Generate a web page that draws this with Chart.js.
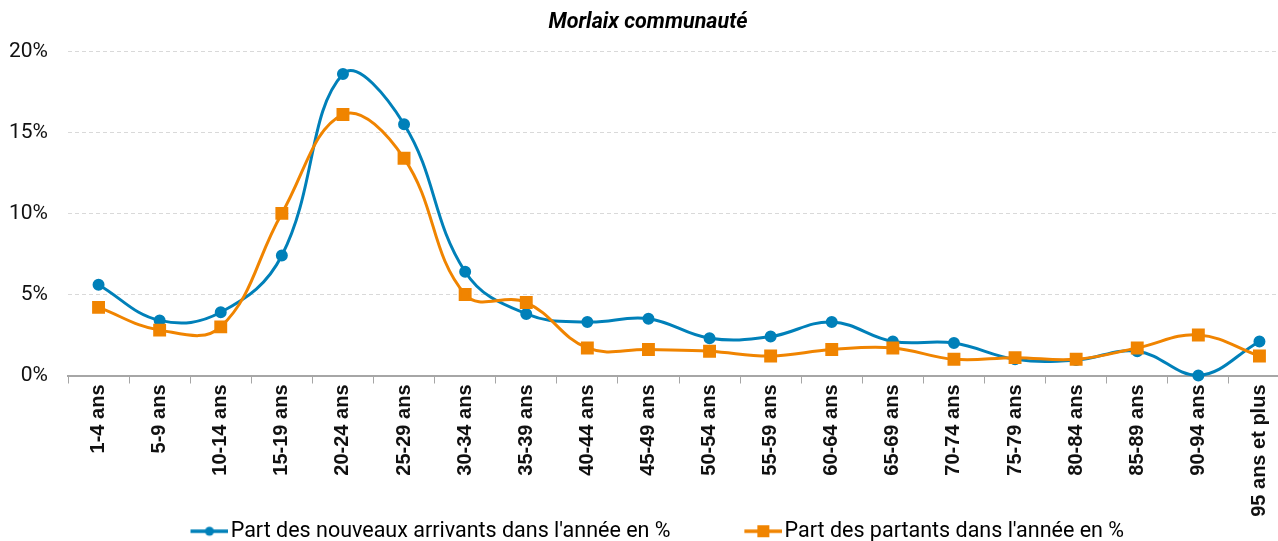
<!DOCTYPE html>
<html>
<head>
<meta charset="utf-8">
<script src="https://cdn.jsdelivr.net/npm/chart.js@4.4.0/dist/chart.umd.min.js"></script>
<style>
  html, body { margin: 0; padding: 0; background: #fff; overflow: hidden; }
  #wrap { width: 1278px; height: 541px; overflow: hidden; }
</style>
</head>
<body>
<div id="wrap"><canvas id="ageChart" width="1310" height="552"></canvas></div>
<script>
const title = 'Morlaix communauté';
const ageGroups = ['1-4 ans', '5-9 ans', '10-14 ans', '15-19 ans', '20-24 ans', '25-29 ans', '30-34 ans',
	'35-39 ans', '40-44 ans', '45-49 ans', '50-54 ans', '55-59 ans', '60-64 ans', '65-69 ans',
	'70-74 ans', '75-79 ans', '80-84 ans', '85-89 ans', '90-94 ans', '95 ans et plus'];
const arrivals = [5.6, 3.4, 3.9, 7.4, 18.6, 15.5, 6.4, 3.8, 3.3, 3.5, 2.3, 2.4, 3.3, 2.1, 2.0, 1.0, 0.95, 1.5, 0, 2.1];
const departures = [4.2, 2.8, 3.0, 10.0, 16.1, 13.4, 5.0, 4.5, 1.7, 1.6, 1.5, 1.2, 1.6, 1.7, 1.0, 1.1, 1.0, 1.7, 2.5, 1.2];
const seriesNames = ["Part des nouveaux arrivants dans l'année en %", "Part des partants dans l'année en %"];
const yTicks = [0, 5, 10, 15, 20];

const BLUE = '#0080b9';
const ORANGE = '#f08400';

// legend icon: a line with the series marker, drawn into the right part of a wider canvas
function legendIcon(color, square) {
	const c = document.createElement('canvas');
	c.width = 57;
	c.height = 14;
	const g = c.getContext('2d');
	g.strokeStyle = color;
	g.lineWidth = 3.5;
	g.beginPath();
	g.moveTo(19, 7);
	g.lineTo(57, 7);
	g.stroke();
	g.fillStyle = color;
	if (square) {
		g.fillRect(32, 1, 12, 12);
	} else {
		g.beginPath();
		g.arc(38, 7, 4.5, 0, Math.PI * 2);
		g.fill();
	}
	return c;
}

// the long rotated labels run down into the legend band, so don't clip them at the axis bottom
// also nudge the legend a bit to the right like in the original
const layoutTweaks = {
	id: 'layoutTweaks',
	afterLayout(chart) {
		chart.scales.x.bottom = chart.height;
		chart.legend.left += 4;
		chart.legend.right += 4;
	}
};

const ctx = document.getElementById('ageChart').getContext('2d');

new Chart(ctx, {
	type: 'line',
	data: {
		labels: ageGroups,
		datasets: [{
			label: seriesNames[0],
			data: arrivals,
			borderColor: BLUE,
			backgroundColor: BLUE,
			borderWidth: 3,
			pointStyle: 'circle',
			pointRadius: 4.5,
			pointHoverRadius: 4.5,
			tension: 0.4,
			clip: false,
			order: 2
		}, {
			label: seriesNames[1],
			data: departures,
			borderColor: ORANGE,
			backgroundColor: ORANGE,
			borderWidth: 3,
			pointStyle: 'rect',
			pointRadius: 7,
			pointHoverRadius: 7,
			tension: 0.4,
			clip: false,
			order: 1
		}]
	},
	plugins: [layoutTweaks],
	options: {
		responsive: false,
		animation: false,
		layout: {
			padding: { left: 6, right: 20, top: 0, bottom: 0 }
		},
		plugins: {
			title: {
				display: true,
				text: title,
				color: '#000',
				font: { family: 'Roboto', size: 21.5, weight: 'bold', style: 'italic' },
				padding: { top: 10, bottom: 15.5 }
			},
			legend: {
				position: 'bottom',
				labels: {
					color: '#222',
					font: { family: 'Roboto', size: 21.5 },
					usePointStyle: true,
					pointStyleWidth: 40,
					padding: 10,
					generateLabels: (chart) => chart.data.datasets.map((ds, i) => ({
						text: i === 0 ? ds.label + '          ' : ds.label,
						pointStyle: legendIcon(ds.borderColor, i === 1),
						fillStyle: ds.borderColor,
						strokeStyle: ds.borderColor,
						lineWidth: 0,
						hidden: false,
						datasetIndex: i
					}))
				}
			},
			tooltip: { enabled: false }
		},
		scales: {
			x: {
				offset: true,
				border: { color: '#a6a6a6', width: 2 },
				grid: {
					offset: true,
					drawOnChartArea: false,
					color: '#a6a6a6',
					tickLength: 8
				},
				afterFit: (axis) => { axis.height = 135; },
				ticks: {
					color: '#111',
					minRotation: 90,
					maxRotation: 90,
					padding: 1,
					font: { family: 'Liberation Sans', size: 20, weight: 'bold' }
				}
			},
			y: {
				min: 0,
				max: 20,
				border: { display: false, dash: [4, 3] },
				grid: {
					color: '#d9d9d9',
					drawTicks: false
				},
				afterFit: (axis) => { axis.width = 62; },
				afterBuildTicks: (axis) => {
					axis.ticks = yTicks.map(v => ({ value: v }));
				},
				ticks: {
					color: '#111',
					padding: 20,
					font: { family: 'Roboto', size: 21 },
					callback: (v) => v + '%'
				}
			}
		}
	}
});
</script>
</body>
</html>
